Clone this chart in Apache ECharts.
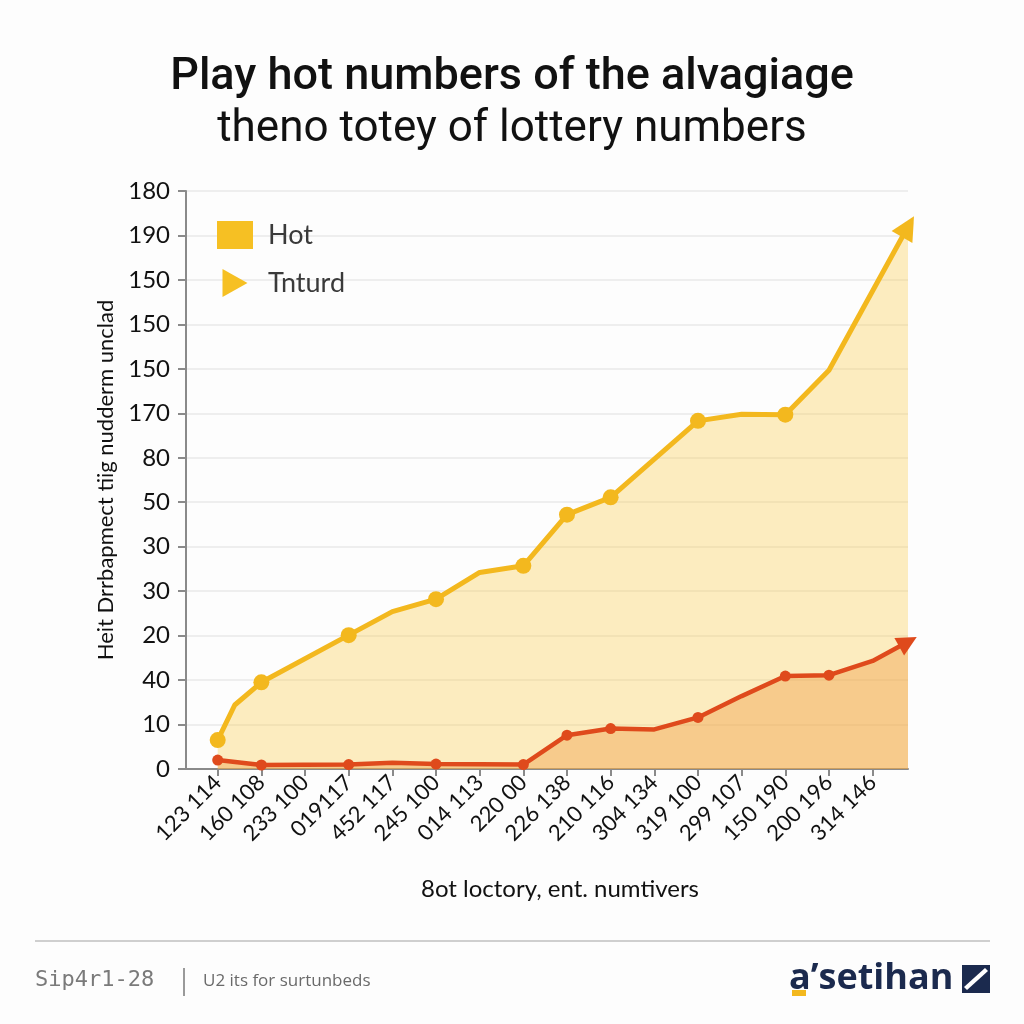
<!DOCTYPE html>
<html>
<head>
<meta charset="utf-8">
<script src="https://cdn.jsdelivr.net/npm/echarts@6/dist/echarts.min.js"></script>
<style>
html,body{margin:0;padding:0;background:#fdfdfd;}
#chart{width:1024px;height:1024px;}
</style>
</head>
<body>
<div id="chart"></div>
<script>
// ---- data ----
const titleLine1 = 'Play hot numbers of the alvagiage';
const titleLine2 = 'theno totey of lottery numbers';
const yAxisName = 'Heit Drrbapmect tiig nudderm unclad';
const xAxisName = '8ot loctory, ent. numtivers';
const yTickLabels = ['0','10','40','20','30','30','50','80','170','150','150','150','190','180'];
const xTickLabels = ['123 114','160 108','233 100','019117','452 117','245 100','014 113','220 00',
                     '226 138','210 116','304 134','319 100','299 107','150 190','200 196','314 146'];
// x = category position (0..15), y = position on the y scale (grid steps)
const hotX = [0, 0.39, 1, 3, 4, 5, 6, 7, 8, 9, 11, 12, 13, 14, 15.81];
const hotY = [0.65, 1.44, 1.95, 3.01, 3.54, 3.82, 4.42, 4.57, 5.72, 6.11, 7.83, 7.98, 7.97, 8.97, 12.2];
const hotMarked = [0, 1, 3, 5, 7, 8, 9, 11, 13];
const trendX = [0, 1, 3, 4, 5, 7, 8, 9, 10, 11, 12, 13, 14, 15, 15.81];
const trendY = [0.2, 0.09, 0.1, 0.14, 0.11, 0.1, 0.76, 0.91, 0.89, 1.16, 1.64, 2.09, 2.11, 2.43, 2.86];
const trendMarked = [0, 1, 3, 5, 7, 8, 9, 11, 13, 14];
const footerLeft = 'Sip4r1-28';
const footerNote = 'U2 its for surtunbeds';
const brand = 'a\u2019setihan';

const YELLOW = '#F3B81E';
const RED = '#DF4A1C';

function buildData(xs, ys, marked, size, arrowRot, arrowSize) {
  return xs.map((x, i) => {
    const p = { value: [x, ys[i]] };
    if (i === xs.length - 1) {
      p.symbol = 'triangle';
      p.symbolSize = arrowSize;
      p.symbolRotate = arrowRot;
    } else if (marked.indexOf(x) >= 0) {
      p.symbol = 'circle';
      p.symbolSize = size;
    } else {
      p.symbol = 'none';
    }
    return p;
  });
}

const chart = echarts.init(document.getElementById('chart'));
const labelFont = 'Lato, "Open Sans", sans-serif';
chart.setOption({
  backgroundColor: '#fdfdfd',
  animation: false,
  title: {
    text: titleLine1,
    subtext: titleLine2,
    left: 'center',
    top: 50,
    itemGap: 8,
    textStyle: { fontFamily: 'Roboto, sans-serif', fontWeight: 500, fontSize: 45, color: '#111' },
    subtextStyle: { fontFamily: 'Roboto, sans-serif', fontWeight: 400, fontSize: 44, color: '#111' }
  },
  legend: {
    left: 212,
    top: 216,
    orient: 'vertical',
    itemWidth: 36,
    itemHeight: 28,
    itemGap: 20,
    textStyle: { fontFamily: labelFont, fontSize: 27, color: '#3a3a3a', padding: [0, 0, 0, 10] },
    data: [
      { name: 'Hot', icon: 'rect', itemStyle: { color: '#F6C023' } },
      { name: 'Tnturd', icon: 'path://M0,0 L25,14 L0,28 Z', itemStyle: { color: '#F6C023' } }
    ]
  },
  grid: { left: 186, right: 116, top: 191, bottom: 255 },
  xAxis: {
    type: 'value',
    min: -0.726,
    max: 15.81,
    name: xAxisName,
    nameLocation: 'middle',
    nameGap: 108,
    nameTextStyle: { fontFamily: labelFont, fontSize: 24, color: '#111', padding: [0, 0, 0, 26] },
    axisLine: { show: true, onZero: false, lineStyle: { color: '#8a8a8a', width: 2 } },
    axisTick: { show: true, length: 7, lineStyle: { color: '#8a8a8a', width: 2 },
                customValues: xTickLabels.map((_, i) => i) },
    axisLabel: {
      customValues: xTickLabels.map((_, i) => i),
      formatter: v => xTickLabels[Math.round(v)] || '',
      rotate: 45,
      margin: 10,
      fontFamily: labelFont,
      fontSize: 22,
      color: '#111'
    },
    splitLine: { show: false }
  },
  yAxis: {
    type: 'value',
    min: 0,
    max: 13,
    interval: 1,
    name: yAxisName,
    nameLocation: 'middle',
    nameGap: 64,
    nameTextStyle: { fontFamily: labelFont, fontSize: 22, color: '#111' },
    axisLine: { show: true, onZero: false, lineStyle: { color: '#8a8a8a', width: 2 } },
    axisTick: { show: true, length: 8, lineStyle: { color: '#8a8a8a', width: 2 } },
    axisLabel: {
      formatter: v => yTickLabels[Math.round(v)],
      margin: 16,
      fontFamily: labelFont,
      fontSize: 24,
      color: '#111'
    },
    splitLine: { show: true, lineStyle: { color: '#e8e8e8', width: 1.5 } }
  },
  series: [
    {
      name: 'Hot',
      type: 'line',
      data: buildData(hotX, hotY, hotMarked, 16, -30, 24),
      lineStyle: { color: YELLOW, width: 5 },
      itemStyle: { color: YELLOW },
      areaStyle: { color: 'rgba(249,208,90,0.55)', origin: 'start' },
      z: 2
    },
    {
      name: 'Tnturd',
      type: 'line',
      data: buildData(trendX, trendY, trendMarked, 11, -61, 20),
      lineStyle: { color: RED, width: 4.5 },
      itemStyle: { color: RED },
      areaStyle: { color: 'rgba(240,150,60,0.55)', origin: 'start' },
      z: 3
    }
  ],
  graphic: [
    { type: 'rect', shape: { x: 35, y: 940, width: 955, height: 2 }, style: { fill: '#cfcfcf' } },
    { type: 'text', left: 35, top: 969, style: { text: footerLeft, font: '22px "DejaVu Sans Mono", monospace', fill: '#7a7a7a' } },
    { type: 'rect', shape: { x: 183, y: 968, width: 2, height: 28 }, style: { fill: '#9a9a9a' } },
    { type: 'text', left: 203, top: 973, style: { text: footerNote, font: '17px "Open Sans", sans-serif', fill: '#6a6a6a' } },
    { type: 'text', left: 789, top: 961, style: { text: brand, font: 'bold 36px "Open Sans", sans-serif', fill: '#1b2a4e' } },
    { type: 'rect', shape: { x: 792, y: 990, width: 14, height: 6 }, style: { fill: '#F3B81E' } },
    { type: 'rect', shape: { x: 962, y: 965, width: 28, height: 28 }, style: { fill: '#1b2a4e' } },
    { type: 'polygon', shape: { points: [[985, 968], [988, 971], [967, 990], [964, 987]] }, style: { fill: '#ffffff' } }
  ]
});
</script>
</body>
</html>
